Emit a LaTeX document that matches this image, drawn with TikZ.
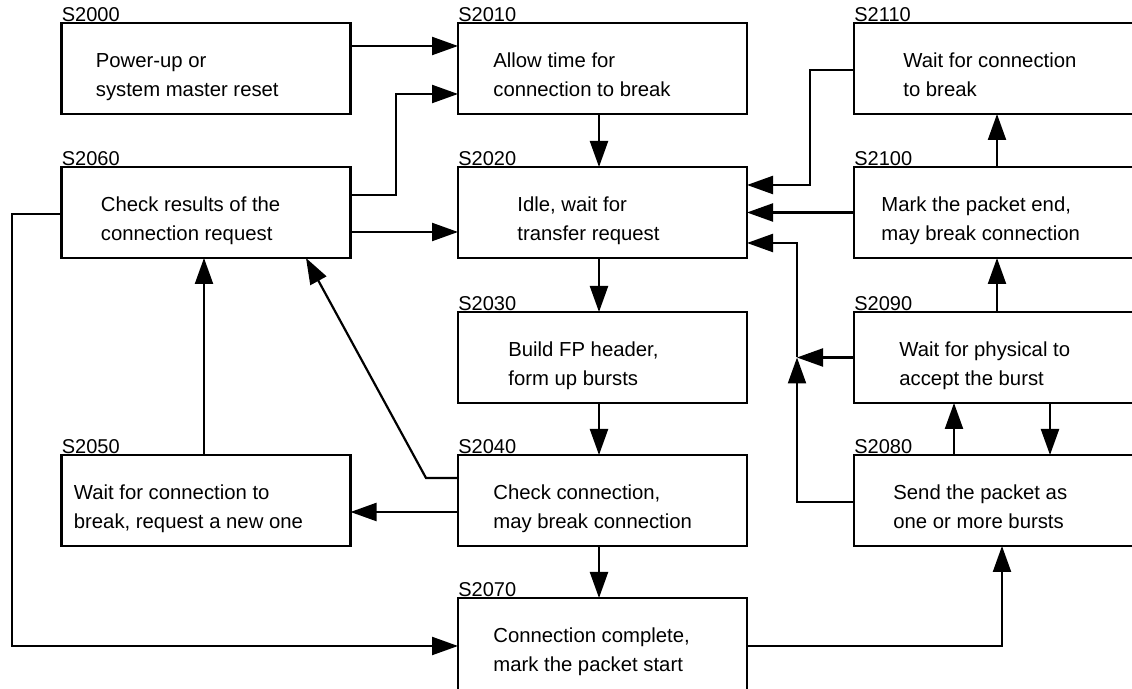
\documentclass[tikz,border=0pt]{standalone}
\usepackage{fontspec}
\setmainfont{Liberation Sans}
\usetikzlibrary{arrows.meta,calc}

\begin{document}
\begin{tikzpicture}[x=0.5pt,y=-0.5pt,
  box/.style={draw,line width=1.1pt,minimum width=144.5pt,minimum height=45.5pt,
              inner sep=0pt,outer sep=0pt},
  txt/.style={anchor=base west,inner sep=0pt,align=left,
              font=\fontsize{10.15pt}{14.5pt}\selectfont},
  tag/.style={anchor=base west,inner sep=0pt,font=\fontsize{10pt}{12pt}\selectfont},
  link/.style={line width=1.1pt,-{Triangle[length=13pt,width=9pt]}}
]
\clip (0,0) rectangle (1132,689);

% state boxes
\node[box] (s2000) at (206,68.5)   {};
\node[box] (s2010) at (602.5,68.5) {};
\node[box] (s2110) at (998.5,68.5) {};
\node[box] (s2060) at (206,212.5)   {};
\node[box] (s2020) at (602.5,212.5) {};
\node[box] (s2100) at (998.5,212.5) {};
\node[box] (s2030) at (602.5,357.5) {};
\node[box] (s2090) at (998.5,357.5) {};
\node[box] (s2050) at (206,500.5)   {};
\node[box] (s2040) at (602.5,500.5) {};
\node[box] (s2080) at (998.5,500.5) {};
\node[box,minimum height=50pt] (s2070) at (602.5,648) {};

% step numbers
\foreach \n in {2000,2010,2110,2060,2020,2100,2030,2090,2050,2040,2080,2070}
  \node[tag] (l\n) at ($(s\n.north west)+(0,-1)$) {S\n};

% box texts (anchored on the baseline of the last line)
\node[txt] (t2000) at ($(s2000.north west)+(34,74)$) {Power-up or\\system master reset};
\node[txt] (t2010) at ($(s2010.north west)+(35,74)$) {Allow time for\\connection to break};
\node[txt] (t2110) at ($(s2110.north west)+(49,74)$) {Wait for connection\\to break};
\node[txt] (t2060) at ($(s2060.north west)+(39,74)$) {Check results of the\\connection request};
\node[txt] (t2020) at ($(s2020.north west)+(59,74)$) {Idle, wait for\\transfer request};
\node[txt] (t2100) at ($(s2100.north west)+(27,74)$) {Mark the packet end,\\may break connection};
\node[txt] (t2030) at ($(s2030.north west)+(50,74)$) {Build FP header,\\form up bursts};
\node[txt] (t2090) at ($(s2090.north west)+(45,74)$) {Wait for physical to\\accept the burst};
\node[txt] (t2050) at ($(s2050.north west)+(12,74)$) {Wait for connection to\\break, request a new one};
\node[txt] (t2040) at ($(s2040.north west)+(35,74)$) {Check connection,\\may break connection};
\node[txt] (t2080) at ($(s2080.north west)+(39,74)$) {Send the packet as\\one or more bursts};
\node[txt] (t2070) at ($(s2070.north west)+(35,74)$) {Connection complete,\\mark the packet start};

% junction where the burst loop rejoins the return path
\coordinate (j) at ($(s2090.west)+(-57,0)$);

% transitions
\draw[link] ($(s2000.east)+(0,-22.5)$) -- ($(s2010.west)+(0,-22.5)$);
\draw[link] ($(s2060.east)+(0,-17.5)$) -- ++(45.5,0) |- ($(s2010.west)+(0,25.5)$);
\draw[link] ($(s2060.east)+(0,19.5)$) -- ($(s2020.west)+(0,19.5)$);
\draw[link] ($(s2060.west)+(0,1.5)$) -- ++(-49.5,0) |- ($(s2070.west)+(0,-2)$);

\draw[link] ($(s2010.south)+(-3.5,0)$) -- ($(s2020.north)+(-3.5,0)$);
\draw[link] ($(s2020.south)+(-3.5,0)$) -- ($(s2030.north)+(-3.5,0)$);
\draw[link] ($(s2030.south)+(-3.5,0)$) -- ($(s2040.north)+(-3.5,0)$);
\draw[link] ($(s2040.south)+(-3.5,0)$) -- ($(s2070.north)+(-3.5,0)$);

\draw[link] ($(s2110.west)+(0,1.5)$) -- ++(-44,0) |- ($(s2020.east)+(0,-27.5)$);
\draw[link] (s2100.west) -- (s2020.east);
\draw[link] ($(s2080.west)+(0,1.5)$) -| (j);
\draw[link] (j) |- ($(s2020.east)+(0,30.5)$);
\draw[link] (s2090.west) -- (j);

\draw[link] ($(s2100.north)+(-1.5,0)$) -- ($(s2110.south)+(-1.5,0)$);
\draw[link] ($(s2090.north)+(-1.5,0)$) -- ($(s2100.south)+(-1.5,0)$);
\draw[link] ($(s2080.north)+(-44.5,0)$) -- ($(s2090.south)+(-44.5,0)$);
\draw[link] ($(s2090.south)+(51.5,0)$) -- ($(s2080.north)+(51.5,0)$);
\draw[link] ($(s2070.east)+(0,-2)$) -| ($(s2080.south)+(3.5,0)$);

\draw[link] ($(s2040.west)+(0,11.5)$) -- ($(s2050.east)+(0,11.5)$);
\draw[link] ($(s2050.north)+(-2,0)$) -- ($(s2060.south)+(-2,0)$);
\draw[link] ($(s2040.west)+(0,-22.5)$) -- ++(-32,0) -- ($(s2060.south)+(100,0)$);
\end{tikzpicture}
\end{document}
